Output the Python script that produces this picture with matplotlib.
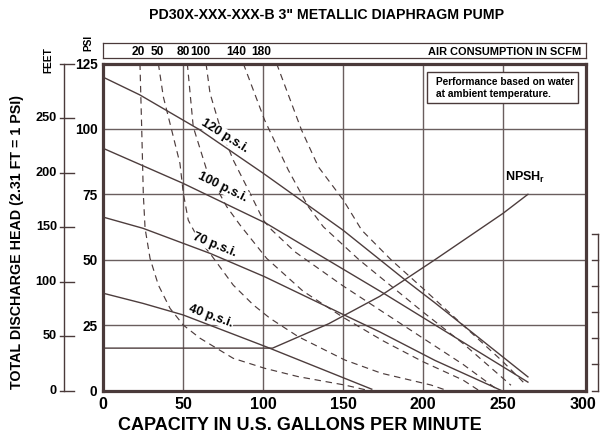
import matplotlib
matplotlib.use("Agg")
import matplotlib.pyplot as plt
from matplotlib.patches import Rectangle

plt.rcParams['font.family'] = ['Liberation Sans', 'DejaVu Sans']
plt.rcParams['font.weight'] = 'bold'
plt.rcParams['mathtext.fontset'] = 'custom'
plt.rcParams['mathtext.rm'] = 'Liberation Sans:bold'
plt.rcParams['mathtext.bf'] = 'Liberation Sans:bold'

# ---------------- data ----------------
# pressure (inlet air) performance curves: capacity (gpm) vs head (psi)
p120_gpm = [0, 23, 60.6, 100, 150, 189, 207.5, 265.6]
p120_psi = [119.8, 113, 99.6, 83.1, 61.3, 42.2, 33.5, 5.2]
p100_gpm = [0, 50, 102, 175, 265.6]
p100_psi = [92.6, 79.2, 63.9, 37.3, 3.2]
p70_gpm = [0, 25, 67, 101, 151, 173, 207.5, 249]
p70_psi = [66.3, 62, 52.4, 43.5, 28.8, 22.4, 11.5, 0]
p40_gpm = [0, 25, 50, 102, 168]
p40_psi = [37.2, 33.3, 28.9, 16.7, 0.5]
curve_labels = ["120 p.s.i.", "100 p.s.i.", "70 p.s.i.", "40 p.s.i."]

# NPSHr curve
npsh_gpm = [0, 106, 141, 173, 207.5, 250, 265.6]
npsh_psi = [16.2, 16.2, 25.5, 36, 50, 67.7, 75]

# air consumption curves (SCFM)
scfm_values = ["20", "50", "80", "100", "140", "180"]
a20_gpm = [23.1, 24.2, 25.2, 26.3, 29.4, 34.6, 41.9, 50.2, 60.6, 81.4, 101, 122, 151, 166]
a20_psi = [125, 100, 75, 62, 50.5, 40.3, 31.4, 25, 20, 12.3, 8.5, 5.3, 2.1, 0]
a50_gpm = [34.6, 37.7, 42.9, 48.1, 50.2, 53.3, 60, 66.9, 81.4, 94, 104.4, 122, 151, 174, 205, 215]
a50_psi = [125, 112.3, 99.6, 86.8, 75.4, 65.1, 57.5, 52.4, 40.3, 32.7, 27.6, 20.6, 11.7, 6.6, 2.1, 0]
a80_gpm = [52.7, 56.4, 64.8, 77.3, 85.6, 102.3, 125, 150, 175, 200, 225, 235]
a80_psi = [125, 100.8, 84.3, 70.3, 63.3, 50.5, 38, 28, 19, 11, 4, 0]
a100_gpm = [64.4, 66.9, 73.1, 81.4, 91.9, 100.2, 105.4, 120, 150, 175, 200, 225, 245]
a100_psi = [125, 113.6, 100.8, 88.1, 75.4, 65.1, 61.4, 53, 40, 30, 20, 10, 1]
a140_gpm = [87.7, 101, 115.8, 128.3, 137.7, 160, 180, 200, 225, 255]
a140_psi = [125, 103.4, 84.3, 70.3, 62.6, 50, 40, 30, 18, 2]
a180_gpm = [108.5, 124, 134.6, 150.2, 161.7, 180, 200, 225, 250, 263]
a180_psi = [125, 99.7, 85.5, 72.8, 61.3, 50, 39, 25, 11, 3]
scfm_label_gpm = [21.9, 33.8, 50, 61, 83, 99]

# axes ticks
x_ticks = [0, 50, 100, 150, 200, 250, 300]
psi_ticks = [0, 25, 50, 75, 100, 125]
feet_ticks = [0, 50, 100, 150, 200, 250, 300]
feet_labels = ["0", "50", "100", "150", "200", "250", ""]
npsh_scale_ticks = [0, 10, 20, 30, 40, 50, 60]

# ---------------- figure ----------------
W, H = 602, 438
fig = plt.figure(figsize=(W / 100, H / 100), dpi=100)
dark = '#4a3a3a'
gridc = '#6a5e5e'
linec = '#4d3d3d'

L, R, B, T = 103, 586, 390.5, 63.5
ax = fig.add_axes([L / W, 1 - B / H, (R - L) / W, (B - T) / H])
ax.set_xlim(0, 301.9)
ax.set_ylim(0, 125)
for s in ax.spines.values():
    s.set_linewidth(2.3)
    s.set_color(dark)
ax.set_xticks(x_ticks)
ax.set_yticks(psi_ticks)
ax.set_xticklabels([str(v) for v in x_ticks], fontsize=11.5, fontweight='bold')
ax.set_yticklabels([str(v) for v in psi_ticks], fontsize=9.8, fontweight='bold')
ax.tick_params(length=0, pad=4)
ax.tick_params(axis='x', pad=5)
for v in x_ticks[1:-1]:
    ax.axvline(v, color=gridc, lw=1.0, zorder=1)
for v in psi_ticks[1:-1]:
    ax.axhline(v, color=gridc, lw=1.0, zorder=1)

# air consumption curves
dash = (0, (5.5, 4))
for gx, gy in [(a20_gpm, a20_psi), (a50_gpm, a50_psi), (a80_gpm, a80_psi),
               (a100_gpm, a100_psi), (a140_gpm, a140_psi), (a180_gpm, a180_psi)]:
    ax.plot(gx, gy, color=linec, lw=0.85, linestyle=dash, zorder=2)

# pressure curves
for gx, gy in [(p120_gpm, p120_psi), (p100_gpm, p100_psi), (p70_gpm, p70_psi), (p40_gpm, p40_psi)]:
    ax.plot(gx, gy, color=linec, lw=1.0, zorder=3)
ax.plot(npsh_gpm, npsh_psi, color=linec, lw=1.0, zorder=3)

# curve labels
lab_pos = [(76.3, 97.3, -32), (75, 77.8, -26), (70, 55.6, -22), (67.5, 28.5, -20)]
for txt, (lx, ly, rot) in zip(curve_labels, lab_pos):
    ax.text(lx, ly, txt, rotation=rot, ha='center', va='center',
            fontsize=9, fontweight='bold', color='black', zorder=4,
            bbox=dict(facecolor='white', edgecolor='none', pad=0.5))

ax.text(251.5, 80, r'$\mathbf{NPSH_r}$', ha='left', va='baseline', fontsize=9, color='black', zorder=5)

# performance note box
ax.add_patch(Rectangle((0.670, 0.878), 0.314, 0.097, transform=ax.transAxes,
                       facecolor='white', edgecolor=dark, lw=1.0, zorder=5))
ax.text(0.689, 0.944, "Performance based on water", transform=ax.transAxes, ha='left', va='center',
        fontsize=7.3, fontweight='bold', zorder=6)
ax.text(0.689, 0.907, "at ambient temperature.", transform=ax.transAxes, ha='left', va='center',
        fontsize=7.3, fontweight='bold', zorder=6)

# small right-side scale
xr = 309.4
ax.plot([xr, xr], [npsh_scale_ticks[0], npsh_scale_ticks[-1]], color=dark, lw=1.0, clip_on=False)
for t in npsh_scale_ticks:
    ax.plot([xr - 3.8, xr], [t, t], color=dark, lw=1.0, clip_on=False)

# top SCFM box
axb = fig.add_axes([L / W, 1 - 58.3 / H, (R - L) / W, 15 / H])
axb.set_xlim(0, 301.9)
axb.set_ylim(0, 1)
axb.set_xticks([])
axb.set_yticks([])
for s in axb.spines.values():
    s.set_linewidth(0.9)
    s.set_color(dark)
for v, gx in zip(scfm_values, scfm_label_gpm):
    axb.text(gx, 0.45, v, ha='center', va='center', fontsize=8.6, fontweight='bold')
axb.text(0.99, 0.45, "AIR CONSUMPTION IN SCFM", transform=axb.transAxes, ha='right', va='center',
         fontsize=7.9, fontweight='bold')

# feet axis
axf = fig.add_axes([56 / W, 1 - B / H, 20 / W, (B - T) / H])
axf.set_xlim(0, 20)
axf.set_ylim(0, 300.5)
axf.axis('off')
axf.plot([8, 8], [0, 300], color=dark, lw=1.0, clip_on=False)
for t, lbl in zip(feet_ticks, feet_labels):
    axf.plot([4, 18], [t, t], color=dark, lw=1.0, clip_on=False)
    if lbl:
        axf.text(1, t, lbl, ha='right', va='center', fontsize=9.2, fontweight='bold')

# outer labels
fig.text(327 / W, 1 - 15 / H, 'PD30X-XXX-XXX-B 3" METALLIC DIAPHRAGM PUMP', ha='center', va='center',
         fontsize=10.2, fontweight='bold')
fig.text(300 / W, 1 - 426 / H, 'CAPACITY IN U.S. GALLONS PER MINUTE', ha='center', va='center',
         fontsize=13, fontweight='bold')
fig.text(17 / W, 1 - 242 / H, 'TOTAL DISCHARGE HEAD (2.31 FT = 1 PSI)', ha='center', va='center',
         rotation=90, fontsize=10.3, fontweight='bold')
fig.text(48 / W, 1 - 60 / H, 'FEET', ha='center', va='center', rotation=90, fontsize=7.3, fontweight='bold')
fig.text(88 / W, 1 - 43 / H, 'PSI', ha='center', va='center', rotation=90, fontsize=7.3, fontweight='bold')

fig.savefig('out.png', dpi=100)
